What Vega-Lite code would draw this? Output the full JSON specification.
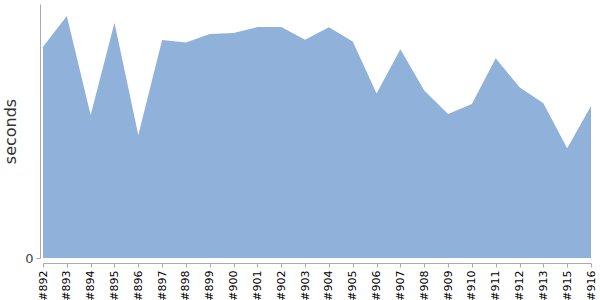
{
  "$schema": "https://vega.github.io/schema/vega-lite/v6.json",
  "autosize": {"type": "none"},
  "padding": {"left": 43, "top": 4, "right": 9, "bottom": 42},
  "width": 548,
  "height": 254,
  "background": "white",
  "config": {"view": {"stroke": null}, "font": "DejaVu Sans"},
  "data": {
    "values": [
      {"build": "#892", "seconds": 83.2},
      {"build": "#893", "seconds": 95.3},
      {"build": "#894", "seconds": 56.3},
      {"build": "#895", "seconds": 92.6},
      {"build": "#896", "seconds": 48.4},
      {"build": "#897", "seconds": 85.8},
      {"build": "#898", "seconds": 84.8},
      {"build": "#899", "seconds": 88.2},
      {"build": "#900", "seconds": 88.6},
      {"build": "#901", "seconds": 90.9},
      {"build": "#902", "seconds": 90.9},
      {"build": "#903", "seconds": 85.9},
      {"build": "#904", "seconds": 90.8},
      {"build": "#905", "seconds": 85.2},
      {"build": "#906", "seconds": 64.8},
      {"build": "#907", "seconds": 82.2},
      {"build": "#908", "seconds": 65.9},
      {"build": "#909", "seconds": 56.7},
      {"build": "#910", "seconds": 60.6},
      {"build": "#911", "seconds": 78.6},
      {"build": "#912", "seconds": 67.2},
      {"build": "#913", "seconds": 60.9},
      {"build": "#915", "seconds": 43.2},
      {"build": "#916", "seconds": 59.8}
    ]
  },
  "mark": {"type": "area", "color": "#8fb1da", "opacity": 1, "interpolate": "linear"},
  "encoding": {
    "x": {
      "field": "build",
      "type": "ordinal",
      "sort": null,
      "scale": {"type": "point", "padding": 0},
      "axis": {
        "title": null,
        "offset": 5,
        "labelAngle": 270,
        "labelFontSize": 11,
        "labelColor": "#000000",
        "labelPadding": 3,
        "tickSize": 4,
        "tickColor": "#aaaaaa",
        "domainColor": "#aaaaaa",
        "grid": false
      }
    },
    "y": {
      "field": "seconds",
      "type": "quantitative",
      "scale": {"domain": [0, 100], "nice": false, "zero": true},
      "axis": {
        "title": "seconds",
        "values": [0],
        "offset": 3,
        "grid": false,
        "tickSize": 4,
        "tickColor": "#aaaaaa",
        "domainColor": "#aaaaaa",
        "labelFontSize": 13,
        "labelColor": "#444444",
        "labelPadding": 3,
        "titleFontSize": 16,
        "titleFontWeight": "normal",
        "titleColor": "#333333",
        "titlePadding": 6
      }
    }
  }
}
